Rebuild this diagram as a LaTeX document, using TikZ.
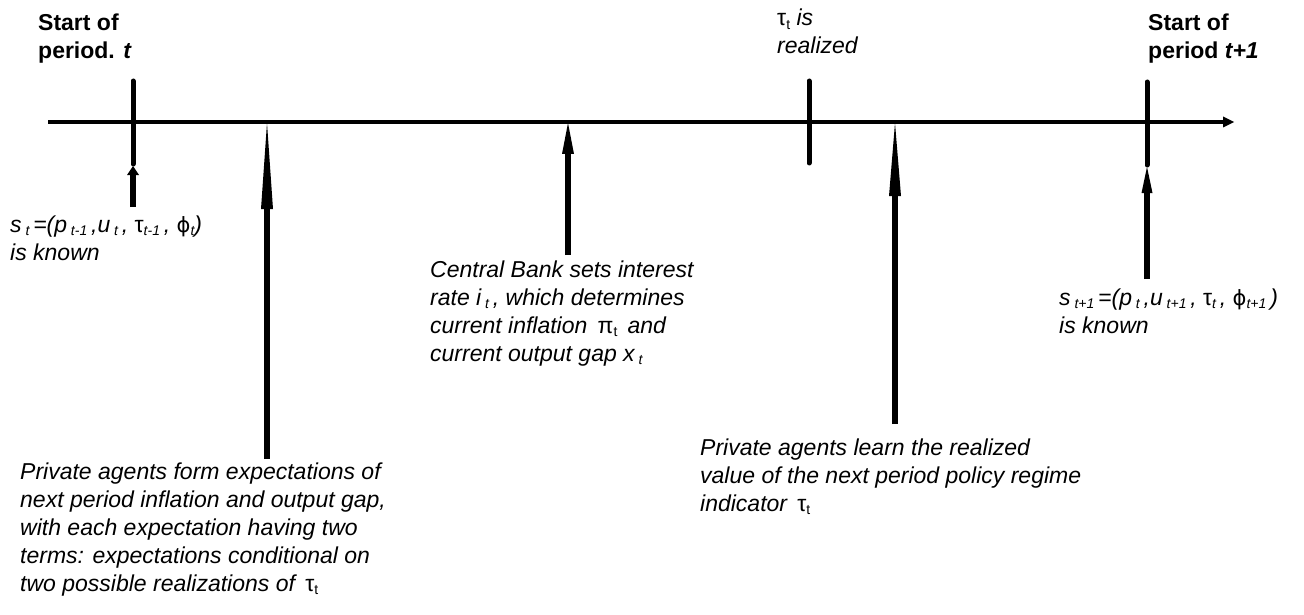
\documentclass[tikz,border=0pt]{standalone}
\usepackage{fontspec}
\setmainfont{Liberation Sans}
\newfontfamily\dvs{DejaVu Sans}
\usetikzlibrary{arrows.meta}
\newcommand{\basefont}{\fontsize{23}{28}\selectfont}
\newcommand{\lo}[1]{\raisebox{-0.3ex}{\fontsize{14}{14}\selectfont #1}}
\newcommand{\blk}[1]{\begin{tabular}[t]{@{}l@{}}#1\end{tabular}}
\newcommand{\vphi}{{\upshape\dvs\fontsize{21}{21}\selectfont ϕ}}
\begin{document}
\begin{tikzpicture}[x=1pt,y=-1pt,
  txt/.style={anchor=base west, inner sep=0pt, font=\basefont\itshape},
  hdr/.style={anchor=base west, inner sep=0pt, font=\basefont\bfseries},
  tickline/.style={line width=5pt, line cap=round},
  ev/.style={line width=6pt}]
\useasboundingbox (0,0) rectangle (1304,615);
% timeline
\coordinate (L) at (48,122);
\coordinate (R) at (1234,122);
\draw[line width=4pt, -{Triangle[length=11pt,width=11pt,line width=0pt]}] (L) -- (R);
% ticks
\coordinate (t0a) at (133,81);  \coordinate (t0b) at (133,164);
\coordinate (tma) at (809,81);  \coordinate (tmb) at (809,163);
\coordinate (t1a) at (1147,82); \coordinate (t1b) at (1147,165);
\draw[tickline] (t0a) -- (t0b);
\draw[tickline] (tma) -- (tmb);
\draw[tickline] (t1a) -- (t1b);
% event arrows
\coordinate (a1s) at (133,207); \coordinate (a1e) at (133,166);
\coordinate (a2s) at (267,459); \coordinate (a2e) at (267,123);
\coordinate (a3s) at (568,255); \coordinate (a3e) at (568,123);
\coordinate (a4s) at (895,424); \coordinate (a4e) at (895,123);
\coordinate (a5s) at (1147,279); \coordinate (a5e) at (1147,167);
\draw[ev, -{Triangle[length=9pt,width=12pt,line width=0pt]}] (a1s) -- (a1e);
\draw[ev, -{Triangle[length=86pt,width=12pt,line width=0pt]}] (a2s) -- (a2e);
\draw[ev, -{Triangle[length=31pt,width=12pt,line width=0pt]}] (a3s) -- (a3e);
\draw[ev, -{Triangle[length=73pt,width=12pt,line width=0pt]}] (a4s) -- (a4e);
\draw[ev, -{Triangle[length=26pt,width=11pt,line width=0pt]}] (a5s) -- (a5e);
% labels
\node[hdr] (sp) at (38,31) {\blk{Start of\\period. \textit{t}}};
\node[hdr] (sp1) at (1148,31) {\blk{Start of\\period \textit{t+1}}};
\node[txt] (real) at (777,26) {\blk{{\upshape τ\lo{t}} is\\realized}};
\node[txt] (sk) at (10,232) {\blk{s\,\lo{t}\,=(p\,\lo{t-1}\,,u\,\lo{t}\,, {\upshape τ}\lo{t-1}\,, \vphi\lo{t})\\is known}};
\node[txt] (sk1) at (1059,305) {\blk{s\,\lo{t+1}\,=(p\,\lo{t}\,,u\,\lo{t+1}\,, {\upshape τ}\lo{t}\,, \vphi\lo{t+1}\,)\\is known}};
\node[txt] (cb) at (430,277) {\blk{Central Bank sets interest\\rate i\,\lo{t}\,, which determines\\current inflation \,{\upshape π\lo{t}}\, and\\current output gap x\,\lo{t}}};
\node[txt] (pf) at (20,479) {\blk{Private agents form expectations of\\next period inflation and output gap,\\with each expectation having two\\terms: expectations conditional on\\two possible realizations of \,{\upshape τ\lo{t}}}};
\node[txt] (pl) at (700,455) {\blk{Private agents learn the realized\\value of the next period policy regime\\indicator \,{\upshape τ\lo{t}}}};
\end{tikzpicture}
\end{document}
